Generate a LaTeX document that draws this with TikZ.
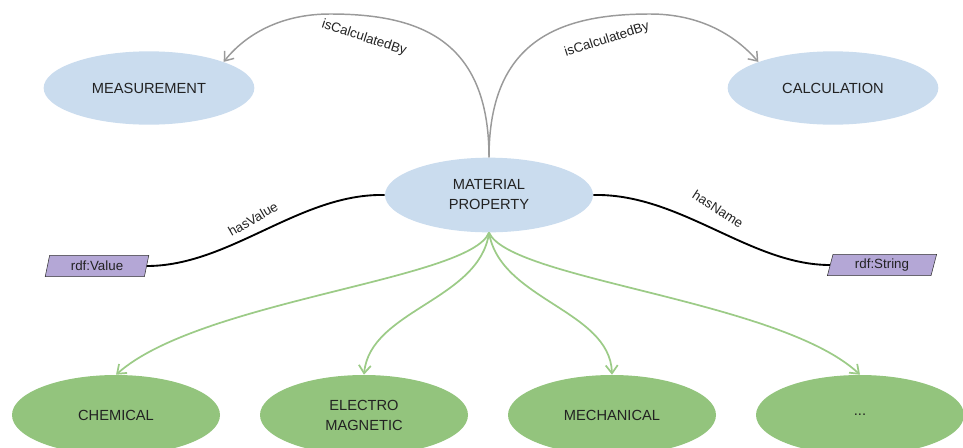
\documentclass[tikz,border=0pt]{standalone}
\usepackage{fontspec}
\setmainfont{Liberation Sans}
\usetikzlibrary{shapes.geometric,arrows.meta}
\definecolor{propblue}{HTML}{CADCEE}
\definecolor{kindgreen}{HTML}{93C47D}
\definecolor{arrgreen}{HTML}{9CCB87}
\definecolor{litpurple}{HTML}{B4A7D6}
\definecolor{arcgray}{HTML}{9A9A9A}
\definecolor{txt}{HTML}{222222}
\begin{document}
\begin{tikzpicture}[x=0.75pt,y=-0.75pt,
  cls/.style={ellipse,fill=propblue,inner sep=0pt,minimum width=158pt,minimum height=55pt,align=center,font=\fontsize{11}{15}\selectfont,text=txt},
  kind/.style={cls,fill=kindgreen,minimum width=156pt,minimum height=60pt},
  lit/.style={trapezium,trapezium left angle=76,trapezium right angle=104,trapezium stretches=true,draw=black!80,fill=litpurple,minimum width=78pt,minimum height=16pt,inner sep=0pt,font=\fontsize{10}{12}\selectfont,text=txt},
  rel/.style={font=\fontsize{10}{12}\selectfont,text=txt,inner sep=0pt},
  isarc/.style={draw=arcgray,line width=1.1pt,-{Straight Barb[length=6pt,width=9pt]}},
  subarc/.style={draw=arrgreen,line width=1.3pt,-{Straight Barb[length=6pt,width=9pt]}},
  prop/.style={draw=black,line width=1.4pt}]
\useasboundingbox (0,0) rectangle (963,447);
% classes
\node [cls] (meas) at (149,88) {MEASUREMENT};
\node [cls] (calc) at (833,88) {CALCULATION};
\node [cls,minimum width=156pt,minimum height=56pt] (mp) at (489,195) {MATERIAL\\PROPERTY};
% literals
\node [lit] (val) at (97,266) {rdf:Value};
\node [lit,minimum width=82pt] (str) at (882,265) {rdf:String};
% kinds of property
\node [kind] (chem) at (116,415) {CHEMICAL};
\node [kind] (elec) at (364,415) {ELECTRO\\MAGNETIC};
\node [kind] (mech) at (612,415) {MECHANICAL};
\node [kind] (etc) at (860,415) {...};
% isCalculatedBy
\draw [isarc] (mp.north) .. controls (489,40) and (420,14) .. (330,14)
  .. controls (280,14) and (245,35) .. (meas.north east);
\draw [isarc] (mp.north) .. controls (489,40) and (560,14) .. (650,14)
  .. controls (700,14) and (735,35) .. (calc.north west);
\node [rel,rotate=-18] (lm) at (364,38) {isCalculatedBy};
\node [rel,rotate=18] (lc) at (607,40) {isCalculatedBy};
% datatype properties
\draw [prop] (mp.west) .. controls (300,193) and (230,266) .. (val.east);
\draw [prop] (mp.east) .. controls (680,193) and (750,265) .. (str.west);
\node [rel,rotate=30] (lv) at (253,219) {hasValue};
\node [rel,rotate=-33] (ln) at (718,209) {hasName};
% subclasses
\draw [subarc] (mp.south) .. controls (470,280) and (200,300) .. (chem.north);
\draw [subarc] (mp.south) .. controls (480,300) and (370,310) .. (elec.north);
\draw [subarc] (mp.south) .. controls (500,300) and (610,310) .. (mech.north);
\draw [subarc] (mp.south) .. controls (510,280) and (780,300) .. (etc.north);
\end{tikzpicture}
\end{document}
